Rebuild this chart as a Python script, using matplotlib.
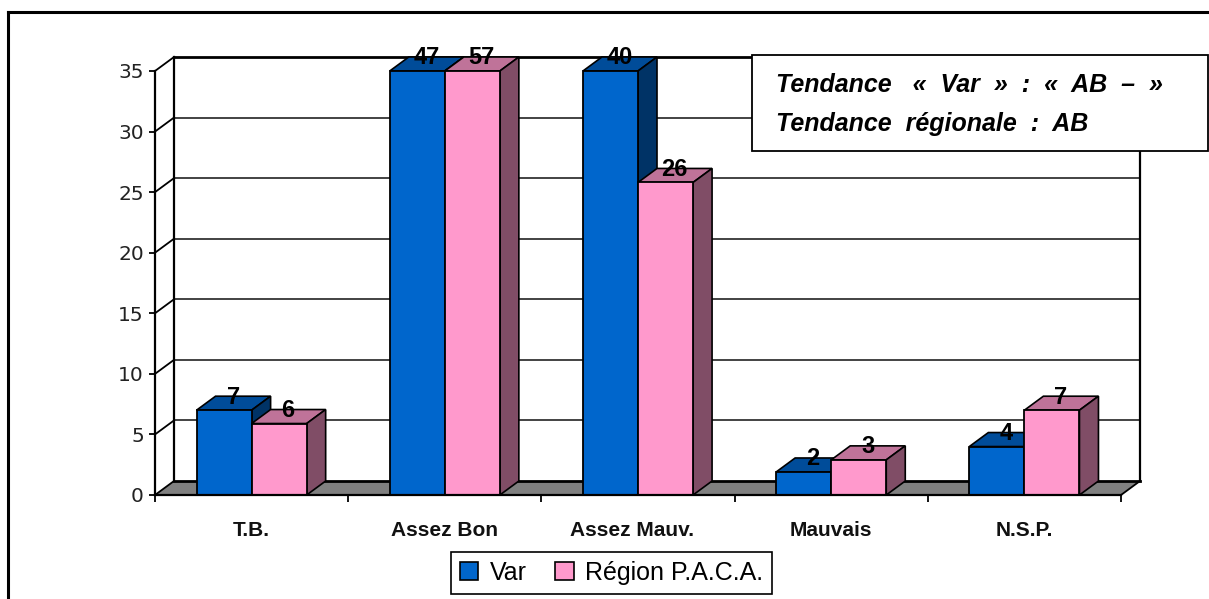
import matplotlib
matplotlib.use("Agg")
import matplotlib.pyplot as plt
from matplotlib.lines import Line2D
from matplotlib.patches import Patch, Polygon, Rectangle
from matplotlib.transforms import ScaledTranslation

W = 1209
H = 599

categories = ["T.B.", "Assez Bon", "Assez Mauv.", "Mauvais", "N.S.P."]
var_values = [7, 47, 40, 2, 4]
paca_values = [6, 57, 26, 3, 7]
var_heights = [7, 35, 35, 1.9, 4]
paca_heights = [5.9, 35, 25.8, 2.9, 7]
y_ticks = [0, 5, 10, 15, 20, 25, 30, 35]
series_names = ["Var", "Région P.A.C.A."]

BLUE = ("#0066CC", "#004C99", "#003366")
PINK = ("#FF99CC", "#BF7399", "#804D66")
FONT = "Liberation Sans"
BAR_W = 0.285


def fx(x):
    return x / W


def fy(y):
    return 1 - y / H


fig = plt.figure(figsize=(W / 100, H / 100), dpi=100, facecolor="white")
ax = fig.add_axes([fx(155), fy(495), 966 / W, 424 / H])
ax.set_xlim(0, 5)
ax.set_ylim(0, 35)
ax.patch.set_visible(False)

# profondeur de la 3D, en unites de donnees
dx = 19 / 966 * 5
dy = 14 / 424 * 35

# sol et murs
ax.add_patch(Polygon([(0, 0), (dx, dy), (5 + dx, dy), (5, 0)], closed=True, fc="#808080",
                     ec="none", clip_on=False, zorder=1))
ax.plot([dx, 5 + dx], [dy, dy], color="black", lw=2, clip_on=False, zorder=1.5)
for t in y_ticks[1:]:
    lw = 2 if t == 35 else 1.2
    col = "black" if t == 35 else "#222222"
    ax.plot([dx, 5 + dx], [t + dy, t + dy], color=col, lw=lw, clip_on=False, zorder=1.5)
for t in y_ticks:
    ax.plot([0, dx], [t, t + dy], color="black", lw=1.3, clip_on=False, zorder=1.5)
ax.plot([dx, dx], [dy, 35 + dy], color="black", lw=1.6, clip_on=False, zorder=1.5)
ax.plot([5 + dx, 5 + dx], [dy, 35 + dy], color="black", lw=1.6, clip_on=False, zorder=1.5)
ax.plot([5, 5 + dx], [0, dy], color="black", lw=1.3, clip_on=False, zorder=1.5)


def bar3d(x, h, colors, z):
    ax.add_patch(Polygon([(x, h), (x + dx, h + dy), (x + BAR_W + dx, h + dy), (x + BAR_W, h)],
                         closed=True, fc=colors[1], ec="black", lw=1.2, clip_on=False, zorder=z))
    ax.add_patch(Polygon([(x + BAR_W, 0), (x + BAR_W + dx, dy), (x + BAR_W + dx, h + dy), (x + BAR_W, h)],
                         closed=True, fc=colors[2], ec="black", lw=1.2, clip_on=False, zorder=z))
    ax.bar(x, h, width=BAR_W, align="edge", color=colors[0], edgecolor="black", lw=1.3,
           clip_on=False, zorder=z + 0.1)


for i, cat in enumerate(categories):
    c = i + 0.5
    bar3d(c - BAR_W, var_heights[i], BLUE, 2 + i)
    bar3d(c, paca_heights[i], PINK, 2.5 + i)

for i in range(len(categories)):
    c = i + 0.5
    ax.annotate(str(var_values[i]), (c - BAR_W / 2, var_heights[i]), xytext=(9, 13),
                textcoords="offset pixels", ha="center", va="center", fontsize=17,
                fontweight="bold", family=FONT, zorder=10, annotation_clip=False)
    ax.annotate(str(paca_values[i]), (c + BAR_W / 2, paca_heights[i]), xytext=(9, 13),
                textcoords="offset pixels", ha="center", va="center", fontsize=17,
                fontweight="bold", family=FONT, zorder=10, annotation_clip=False)

# axes
for s in ["top", "right"]:
    ax.spines[s].set_visible(False)
for s in ["left", "bottom"]:
    ax.spines[s].set_linewidth(1.6)
    ax.spines[s].set_zorder(9)
ax.set_yticks(y_ticks)
ax.set_yticklabels([str(t) for t in y_ticks], fontsize=14.5, family="DejaVu Sans", color="#222222")
ax.tick_params(axis="y", length=4, width=1.3, pad=4)
ax.set_xticks(range(6))
ax.set_xticklabels([])
ax.tick_params(axis="x", length=5, width=1.3)
ax.set_xticks([i + 0.5 for i in range(5)], minor=True)
ax.set_xticklabels(categories, minor=True, fontsize=15, fontweight="bold", family=FONT, color="#111111")
ax.tick_params(axis="x", which="minor", length=0, pad=19)
# "Assez Mauv." est un peu decale a gauche dans l'original
lab = ax.get_xticklabels(minor=True)[2]
lab.set_transform(lab.get_transform() + ScaledTranslation(-6 / 100, 0, fig.dpi_scale_trans))

# cadre exterieur
fig.add_artist(Line2D([fx(8), fx(8)], [fy(12), 0], color="black", lw=2.2))
fig.add_artist(Line2D([fx(8), 1], [fy(12), fy(12)], color="black", lw=2.2))

# encadre tendance
fig.add_artist(Rectangle((fx(752), fy(151)), (W - 1 - 752) / W, 96 / H, fc="white", ec="black", lw=1.3,
                         transform=fig.transFigure, zorder=20))
fig.text(fx(776), fy(85), "Tendance   «  Var  »  :  «  AB  –  »", fontsize=18, fontweight="bold",
         style="italic", family=FONT, va="center", zorder=21)
fig.text(fx(776), fy(124), "Tendance  régionale  :  AB", fontsize=18, fontweight="bold", style="italic",
         family=FONT, va="center", zorder=21)

# legende
handles = [Patch(fc=BLUE[0], ec="black", lw=1.2), Patch(fc=PINK[0], ec="black", lw=1.2)]
leg = fig.legend(handles, series_names, ncol=2, loc="center", bbox_to_anchor=(fx(611.5), fy(573)),
                 frameon=True, fancybox=False, edgecolor="black", framealpha=1,
                 prop={"family": FONT, "size": 18}, handlelength=0.75, handleheight=0.75,
                 handletextpad=0.45, columnspacing=1.14, borderpad=0.35, borderaxespad=0)
leg.get_frame().set_linewidth(1.2)

fig.savefig("out.png", dpi=100)
